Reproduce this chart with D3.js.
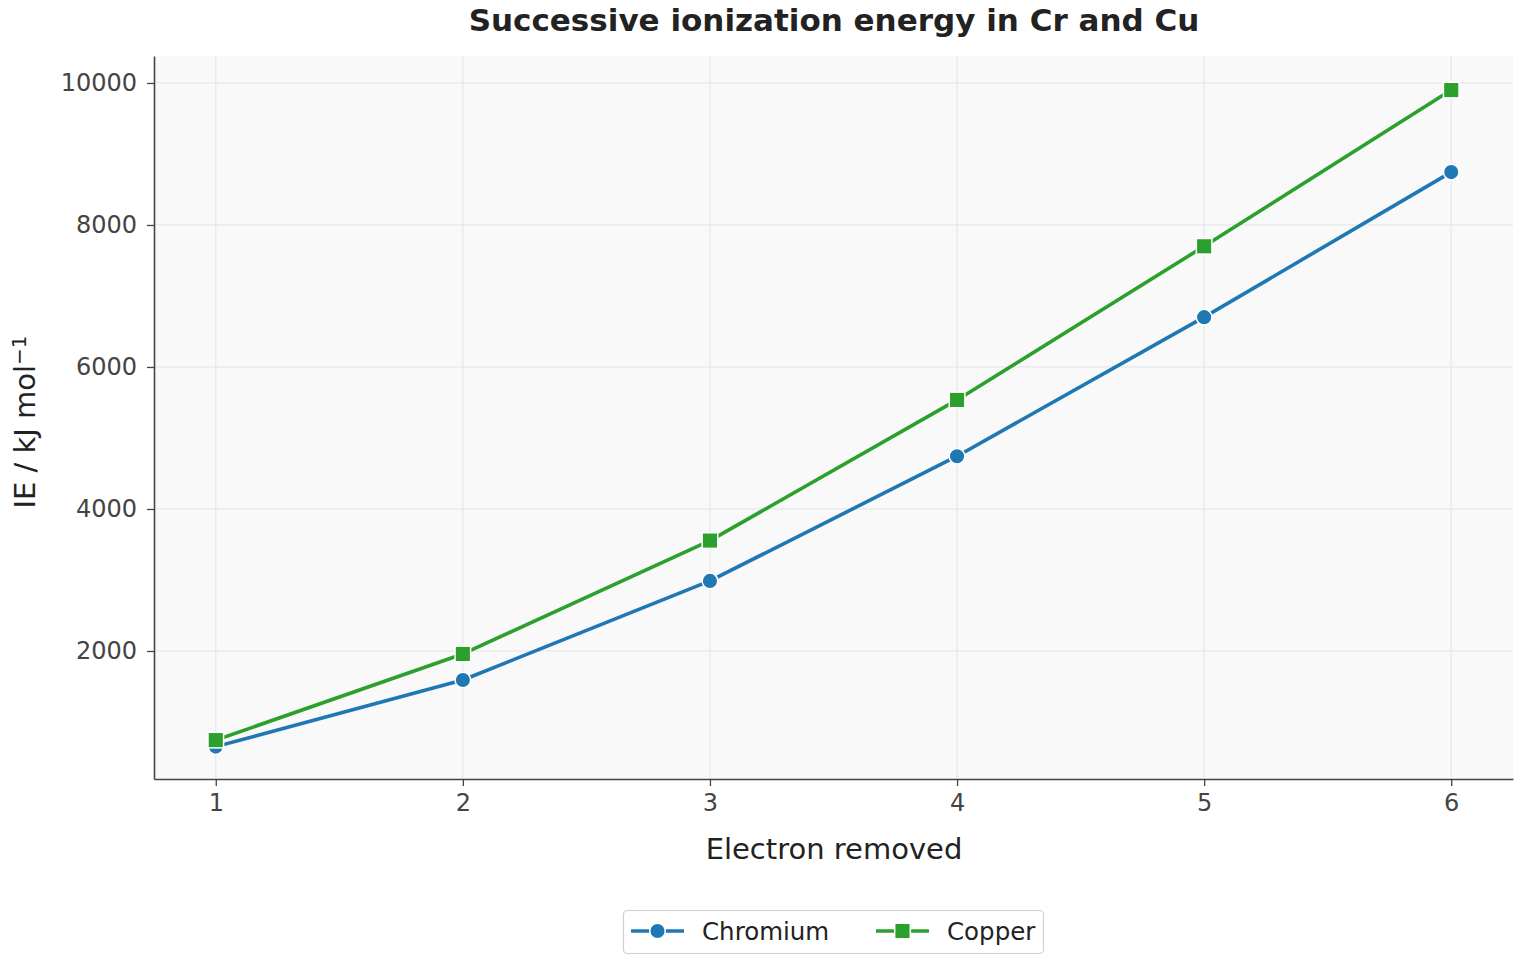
<!DOCTYPE html>
<html>
<head>
<meta charset="utf-8">
<script src="https://cdn.jsdelivr.net/npm/d3@7"></script>
<style>
  body { margin: 0; background: #fff; }
  svg text { font-family: "DejaVu Sans", sans-serif; }
</style>
</head>
<body>
<svg id="chart"></svg>
<script>
const electrons = [1, 2, 3, 4, 5, 6];
const chromium = [653, 1591, 2987, 4743, 6702, 8745];
const copper = [745, 1958, 3555, 5536, 7700, 9900];
const yTicks = [2000, 4000, 6000, 8000, 10000];

const series = [
  { name: "Chromium", values: chromium, color: "#1f77b4", marker: "circle" },
  { name: "Copper", values: copper, color: "#2ca02c", marker: "square" }
];

const width = 1520, height = 960;
const margin = { top: 56, right: 7, bottom: 181, left: 154 };

const svg = d3.select("#chart")
  .attr("width", width)
  .attr("height", height);

const x = d3.scaleLinear()
  .domain([0.75, 6.25])
  .range([margin.left, width - margin.right]);

const y = d3.scaleLinear()
  .domain([197, 10380])
  .range([height - margin.bottom, margin.top]);

// plot background
svg.append("rect")
  .attr("x", margin.left)
  .attr("y", margin.top)
  .attr("width", width - margin.left - margin.right)
  .attr("height", height - margin.top - margin.bottom)
  .attr("fill", "#f9f9fa");

// grid
const grid = svg.append("g");
grid.selectAll(".gx")
  .data(electrons)
  .join("line")
  .attr("x1", d => x(d)).attr("x2", d => x(d))
  .attr("y1", margin.top).attr("y2", height - margin.bottom)
  .attr("stroke", "#e3e3e8").attr("stroke-width", 1);
grid.selectAll(".gy")
  .data(yTicks)
  .join("line")
  .attr("x1", margin.left).attr("x2", width - margin.right)
  .attr("y1", d => y(d)).attr("y2", d => y(d))
  .attr("stroke", "#e3e3e8").attr("stroke-width", 1);

// axes
const xAxis = svg.append("g")
  .attr("transform", `translate(0,${height - margin.bottom})`)
  .call(d3.axisBottom(x).tickValues(electrons).tickFormat(d3.format("d")).tickSize(7).tickPadding(8).tickSizeOuter(0));
const yAxis = svg.append("g")
  .attr("transform", `translate(${margin.left},0)`)
  .call(d3.axisLeft(y).tickValues(yTicks).tickFormat(d => d).tickSize(7).tickPadding(10).tickSizeOuter(0));

[xAxis, yAxis].forEach(a => {
  a.attr("font-family", null).attr("font-size", null);
  a.select(".domain").attr("stroke", "#444").attr("stroke-width", 1.6);
  a.selectAll(".tick line").attr("stroke", "#444").attr("stroke-width", 1.3);
  a.selectAll(".tick text").attr("fill", "#444").style("font-size", "24px");
});

// lines
const line = d3.line()
  .x((d, i) => x(electrons[i]))
  .y(d => y(d));

series.forEach(s => {
  svg.append("path")
    .datum(s.values)
    .attr("fill", "none")
    .attr("stroke", s.color)
    .attr("stroke-width", 3.6)
    .attr("stroke-linejoin", "round")
    .attr("d", line);
});

function drawMarker(g, type, color, cx, cy) {
  if (type === "circle") {
    g.append("circle")
      .attr("cx", cx).attr("cy", cy).attr("r", 7.8)
      .attr("fill", color).attr("stroke", "#fff").attr("stroke-width", 1.5);
  } else {
    g.append("rect")
      .attr("x", cx - 7.8).attr("y", cy - 7.8)
      .attr("width", 15.6).attr("height", 15.6)
      .attr("fill", color).attr("stroke", "#fff").attr("stroke-width", 1.5);
  }
}

const marks = svg.append("g");
series.forEach(s => {
  s.values.forEach((v, i) => drawMarker(marks, s.marker, s.color, x(electrons[i]), y(v)));
});

// title and labels
svg.append("text")
  .attr("x", 834).attr("y", 31)
  .attr("text-anchor", "middle")
  .attr("font-size", "31px").attr("font-weight", "bold")
  .attr("fill", "#222")
  .text("Successive ionization energy in Cr and Cu");

svg.append("text")
  .attr("x", 834).attr("y", 859)
  .attr("text-anchor", "middle")
  .attr("font-size", "29px").attr("fill", "#222")
  .text("Electron removed");

const yLabel = svg.append("text")
  .attr("transform", `translate(35,422) rotate(-90)`)
  .attr("text-anchor", "middle")
  .attr("font-size", "29px").attr("fill", "#222");
yLabel.append("tspan").text("IE / kJ mol");
yLabel.append("tspan")
  .attr("dy", "-0.45em")
  .attr("font-size", "20px")
  .text("−1");

// legend
const legend = svg.append("g");
legend.append("rect")
  .attr("x", 623.5).attr("y", 910.5)
  .attr("width", 420).attr("height", 43)
  .attr("rx", 4)
  .attr("fill", "#fff").attr("stroke", "#d0d0d0").attr("stroke-width", 1.2);

const legendX = [631, 876];
series.forEach((s, i) => {
  const lx = legendX[i], ly = 931;
  legend.append("line")
    .attr("x1", lx).attr("x2", lx + 53)
    .attr("y1", ly).attr("y2", ly)
    .attr("stroke", s.color).attr("stroke-width", 3.6);
  drawMarker(legend, s.marker, s.color, lx + 26.5, ly);
  legend.append("text")
    .attr("x", lx + 71).attr("y", ly + 9)
    .attr("font-size", "24.5px").attr("fill", "#222")
    .text(s.name);
});
</script>
</body>
</html>
